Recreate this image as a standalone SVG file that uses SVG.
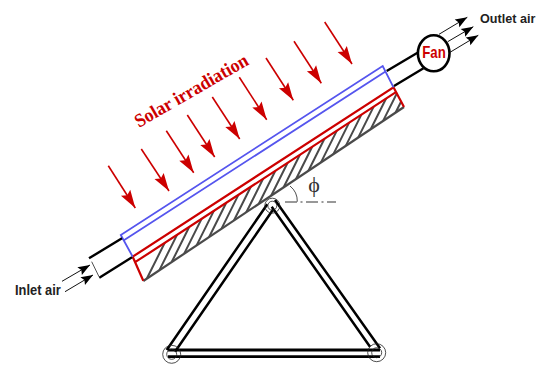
<svg xmlns="http://www.w3.org/2000/svg" width="537" height="365" viewBox="0 0 537 365">
<style>
text{font-family:"Liberation Sans",Arial,sans-serif;font-weight:bold}
.lbl{fill:#222;font-size:14px}
.sun{stroke:#c00;stroke-width:1.6;fill:none;marker-end:url(#ra)}
.air{stroke:#111;stroke-width:1;fill:none;marker-end:url(#ba)}
.duct{stroke:#000;stroke-width:2.4;fill:none}
.strut{stroke:#000;stroke-width:2.5;fill:none}
.thin{stroke:#222;stroke-width:.8;fill:none}
</style>
<defs>
<marker id="ra" markerUnits="userSpaceOnUse" markerWidth="20" markerHeight="14" refX="18" refY="7" orient="auto" overflow="visible"><path d="M0 1.5L18 7L0 12.5L3 7z" fill="#c00"/></marker>
<marker id="ba" markerUnits="userSpaceOnUse" markerWidth="14" markerHeight="12" refX="12" refY="6" orient="auto" overflow="visible"><path d="M0 1.5L12 6L0 10.5L2 6z" fill="#000"/></marker>
<clipPath id="hc"><polygon points="134.3,262.7 396.7,91.7 404,107 143.3,281"/></clipPath>
</defs>
<g id="absorber">
<g clip-path="url(#hc)" stroke="#4a4a4a" stroke-width="2" fill="none">
<path d="M147 278.3l18-36M159.4 270.1l18-36M171.8 261.8l18-36M184.2 253.6l18-36M196.6 245.4l18-36M209 237.2l18-36M221.4 228.9l18-36M233.8 220.7l18-36M246.2 212.5l18-36M258.6 204.2l18-36M271 196l18-36M283.4 187.8l18-36M295.8 179.5l18-36M308.2 171.3l18-36M320.6 163.1l18-36M333 154.9l18-36M345.4 146.6l18-36M357.8 138.4l18-36M370.2 130.2l18-36M382.6 121.9l18-36M395 113.7l18-36"/>
</g>
<path d="M143.3 281L404 107" stroke="#4a4a4a" stroke-width="2.2" fill="none"/>
<path d="M132.7 256.7L393.5 87.3L404 107M132.7 256.7L143.3 280.7M134.3 262.7L396.7 91.7" stroke="#c00" stroke-width="2.2" fill="none"/>
</g>
<g id="glazing" stroke="#5555ee" stroke-width="1.8" fill="none">
<path d="M132.7 256.7L120.8 235L382.7 66L393.5 87.3M123.5 240.5L385.5 71.5"/>
</g>
<g id="duct">
<path class="duct" d="M89 258.3L122 238.3M99.3 277.7L132 257.3M386.7 71L417.5 52.7M394 86L423.5 68.3"/>
<path class="thin" d="M91.7 261.7L99 276.7"/>
</g>
<g id="fan">
<ellipse cx="433.7" cy="53.3" rx="15.8" ry="18" fill="#fff" stroke="#000" stroke-width="2.6"/>
<text x="434" y="58" text-anchor="middle" font-size="16.5" fill="#c00" textLength="23.5" lengthAdjust="spacingAndGlyphs">Fan</text>
</g>
<g id="connectors">
<path class="sun" d="M108.3 165.7L135.3 208"/>
<path class="sun" d="M141.3 149L169 191"/>
<path class="sun" d="M166.3 130.7L193.7 172.7"/>
<path class="sun" d="M187.3 115L214.7 157"/>
<path class="sun" d="M212.3 97L239.7 139"/>
<path class="sun" d="M239.3 77.3L266.7 119.7"/>
<path class="sun" d="M266 58L293.3 100.3"/>
<path class="sun" d="M294 41.3L321.3 83.3"/>
<path class="sun" d="M324.7 22L352 64"/>
<path class="air" d="M62 281.3L90 265"/>
<path class="air" d="M65 291.7L93 275"/>
<path class="air" d="M439 34.3L467.3 17.3"/>
<path class="air" d="M447.7 41.7L473.3 26.7"/>
<path class="air" d="M450 52.3L478.3 35.3"/>
</g>
<g id="frame">
<path class="strut" d="M267.3 204.3L166.7 350M274 208.3L175 351.7M275 200L380 348.3M271.7 206.7L370 346.7"/>
<path d="M168 350H380M168 356.7H380" stroke="#000" stroke-width="2.8" fill="none"/>
<circle class="thin" cx="272.3" cy="205.7" r="7.5"/>
<circle class="thin" cx="272.3" cy="205.7" r="4.5"/>
<circle class="thin" cx="171.7" cy="354.3" r="9"/>
<circle class="thin" cx="171.7" cy="354.3" r="5"/>
<circle class="thin" cx="376.7" cy="352.7" r="9"/>
<circle class="thin" cx="376.7" cy="352.7" r="5"/>
</g>
<g id="angle">
<path d="M285 202H336" stroke="#333" stroke-width="1.1" stroke-dasharray="12 3.5 2 3.5" fill="none"/>
<path d="M290 186Q297.5 192 297.3 201.7" class="thin"/>
<text x="314" y="192" text-anchor="middle" font-size="22" fill="#333" style="font-family:'Liberation Serif',serif;font-weight:normal">ϕ</text>
</g>
<text class="lbl" x="15" y="295" textLength="45.7" lengthAdjust="spacingAndGlyphs">Inlet air</text>
<text class="lbl" x="480" y="22.7" style="font-size:12.6px">Outlet air</text>
<text transform="translate(139 128) rotate(-30)" font-size="19" fill="#c00" style="font-family:'Liberation Serif',serif" textLength="128" lengthAdjust="spacingAndGlyphs">Solar irradiation</text>
</svg>
